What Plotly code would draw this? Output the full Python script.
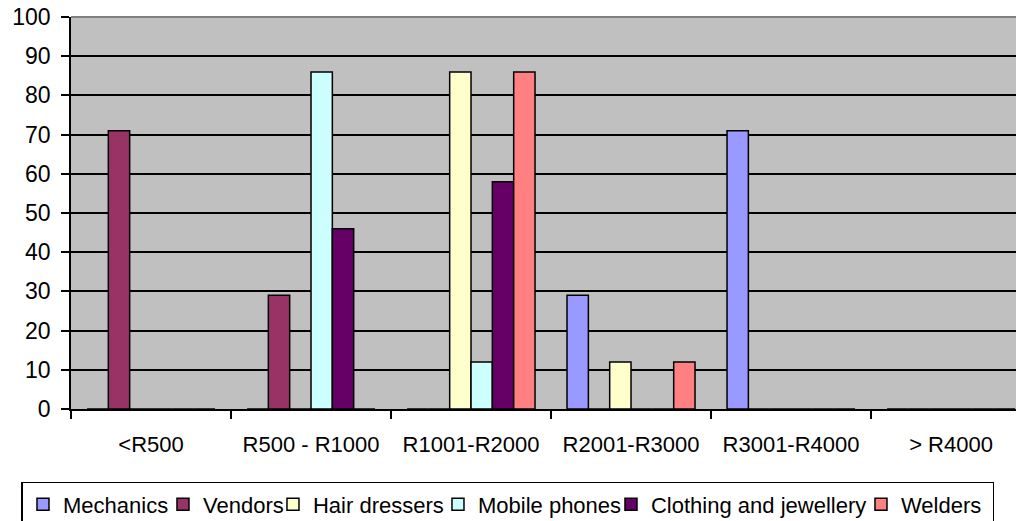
import plotly.graph_objects as go

categories = ["<R500", "R500 - R1000", "R1001-R2000", "R2001-R3000", "R3001-R4000", "> R4000"]
mechanics = [0, 0, 0, 29, 71, 0]
vendors = [71, 29, 0, 0, 0, 0]
hair_dressers = [0, 0, 86, 12, 0, 0]
mobile_phones = [0, 86, 12, 0, 0, 0]
clothing = [0, 46, 58, 0, 0, 0]
welders = [0, 0, 86, 12, 0, 0]

series_names = ["Mechanics", "Vendors", "Hair dressers", "Mobile phones",
                "Clothing and jewellery", "Welders"]
series_values = [mechanics, vendors, hair_dressers, mobile_phones, clothing, welders]
series_colors = ["#9999FF", "#993366", "#FFFFCC", "#CCFFFF", "#660066", "#FF8080"]
# legend entry widths (px) to reproduce the compact legend spacing
legend_widths = [95, 65, 120, 128, 205, 87]

FONT = "Liberation Sans, Arial, sans-serif"

fig = go.Figure()
for name, vals, col, lw in zip(series_names, series_values, series_colors, legend_widths):
    fig.add_trace(go.Bar(
        name=name, x=categories, y=vals,
        marker=dict(color=col, line=dict(color="black", width=1.5)),
        legendwidth=lw,
    ))

fig.update_layout(
    width=1016, height=521,
    margin=dict(l=71, r=0, t=17, b=112, autoexpand=False),
    paper_bgcolor="white",
    plot_bgcolor="#C0C0C0",
    barmode="group",
    bargap=0.2,
    bargroupgap=0,
    font=dict(family=FONT, size=22, color="black"),
    showlegend=True,
    legend=dict(
        orientation="h",
        x=-0.0524, xanchor="left",
        y=-0.186, yanchor="top",
        bgcolor="white",
        bordercolor="black",
        borderwidth=1.5,
        font=dict(family=FONT, size=22, color="black"),
        tracegroupgap=0,
    ),
    xaxis=dict(
        range=[-0.5, 5.406],
        showline=True, linecolor="black", linewidth=1.5,
        ticks="outside", ticklen=8, tickcolor="black", tickwidth=1.5,
        tickson="boundaries",
        ticklabelstandoff=15,
        showgrid=False,
        tickfont=dict(family=FONT, size=22, color="black"),
    ),
    yaxis=dict(
        range=[0, 100],
        tickmode="linear", tick0=0, dtick=10,
        showline=True, linecolor="black", linewidth=1.5,
        ticks="outside", ticklen=8, tickcolor="black", tickwidth=1.5,
        ticklabelstandoff=6,
        showgrid=True, gridcolor="black", gridwidth=1.5,
        zeroline=False,
        tickfont=dict(family=FONT, size=23, color="black"),
    ),
    shapes=[dict(type="line", xref="paper", yref="y domain", x0=0, x1=1, y0=1, y1=1,
                 line=dict(color="#808080", width=2), layer="above")],
)

fig.write_html("out.html")
